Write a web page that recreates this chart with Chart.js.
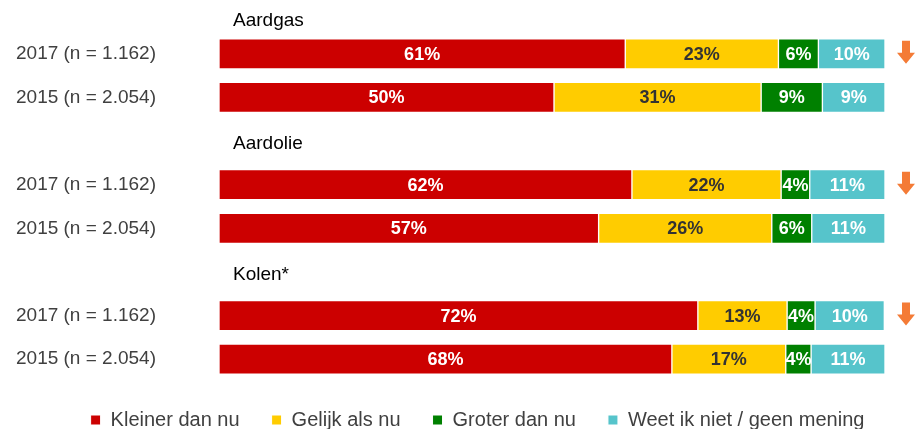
<!DOCTYPE html>
<html>
<head>
<meta charset="utf-8">
<script src="https://cdn.jsdelivr.net/npm/chart.js@4.4.1/dist/chart.umd.min.js"></script>
<style>
  html, body { margin: 0; padding: 0; background: #ffffff; }
  #wrap { width: 915px; height: 429px; position: relative; }
</style>
</head>
<body>
<div id="wrap"><canvas id="c" width="915" height="429"></canvas></div>
<script>
// ---- data ----
const categories = ['2017 (n = 1.162)', '2015 (n = 2.054)', '', '2017 (n = 1.162)', '2015 (n = 2.054)', '', '2017 (n = 1.162)', '2015 (n = 2.054)'];
const groupNames = ['Aardgas', 'Aardolie', 'Kolen*'];
const groupFirstRow = [0, 3, 6];
const arrowRows = [0, 3, 6];
const seriesNames = ['Kleiner dan nu', 'Gelijk als nu', 'Groter dan nu', 'Weet ik niet / geen mening'];
const kleiner = [61, 50.3, null, 62, 57, null, 71.9, 68];
const gelijk  = [23, 31.1, null, 22.4, 26, null, 13.4, 17.1];
const groter  = [6, 9.2, null, 4.3, 6, null, 4.2, 3.8];
const weetNiet = [10, 9.4, null, 11.3, 11, null, 10.4, 11.1];

const colors = ['#CC0000', '#FFCC00', '#008000', '#56C4CB'];
const labelColors = ['#FFFFFF', '#333333', '#FFFFFF', '#FFFFFF'];
const FONT = "'Liberation Sans', Arial, sans-serif";

const seriesData = [kleiner, gelijk, groter, weetNiet];

const dataLabelPlugin = {
  id: 'dataLabels',
  afterDatasetsDraw(chart) {
    const ctx = chart.ctx;
    ctx.save();
    ctx.font = "bold 18px " + FONT;
    ctx.textAlign = 'center';
    ctx.textBaseline = 'middle';
    chart.data.datasets.forEach((ds, di) => {
      const meta = chart.getDatasetMeta(di);
      meta.data.forEach((el, i) => {
        const v = ds.data[i];
        if (v === null || v === undefined) return;
        const cx = (el.x + el.base) / 2;
        ctx.fillStyle = labelColors[di];
        ctx.fillText(Math.round(v) + '%', cx, el.y + 1);
      });
    });
    ctx.restore();
  }
};

const legendLayoutPlugin = {
  id: 'legendLayout',
  beforeUpdate(chart) {
    const lg = chart.legend;
    if (lg && !lg._patched) {
      const orig = lg.fit;
      lg.fit = function () { orig.call(this); this.height = 48; };
      lg._patched = true;
    }
  },
  afterLayout(chart) {
    const lg = chart.legend;
    if (!lg) return;
    lg.top -= 3;
    lg.bottom = chart.height;
    lg.left += 27; lg.right += 27;
  }
};

const extrasPlugin = {
  id: 'extras',
  afterDraw(chart) {
    const ctx = chart.ctx;
    const y = chart.scales.y;
    const area = chart.chartArea;
    ctx.save();
    // group headers
    ctx.font = "19px " + FONT;
    ctx.fillStyle = '#000000';
    ctx.textAlign = 'left';
    ctx.textBaseline = 'middle';
    groupNames.forEach((name, gi) => {
      const py = y.getPixelForValue(groupFirstRow[gi]) - (gi === 0 ? 33 : 41);
      ctx.fillText(name, area.left + 14, py);
    });
    // orange down arrows
    ctx.fillStyle = '#F47B36';
    arrowRows.forEach(r => {
      const cy = y.getPixelForValue(r);
      const cx = area.right + 21;
      ctx.beginPath();
      ctx.moveTo(cx - 4, cy - 13);
      ctx.lineTo(cx + 4, cy - 13);
      ctx.lineTo(cx + 4, cy - 1);
      ctx.lineTo(cx + 9, cy - 1);
      ctx.lineTo(cx, cy + 10);
      ctx.lineTo(cx - 9, cy - 1);
      ctx.lineTo(cx - 4, cy - 1);
      ctx.closePath();
      ctx.fill();
    });
    ctx.restore();
  }
};

new Chart(document.getElementById('c'), {
  type: 'bar',
  data: {
    labels: categories,
    datasets: seriesData.map((d, i) => ({
      label: seriesNames[i],
      data: d,
      backgroundColor: colors[i],
      borderColor: '#FFFFFF',
      borderWidth: 1,
      borderSkipped: false,
      barThickness: 30
    }))
  },
  options: {
    indexAxis: 'y',
    responsive: false,
    animation: false,
    layout: { padding: { top: 32, right: 30, bottom: 0, left: 16 } },
    scales: {
      x: { stacked: true, min: 0, max: 100, display: false },
      y: {
        stacked: true,
        grid: { display: false, drawTicks: false },
        border: { display: false },
        ticks: { padding: 0, crossAlign: 'far', color: '#404040', font: { family: FONT, size: 19 } },
        afterFit(scale) { scale.width = 203; }
      }
    },
    plugins: {
      legend: {
        position: 'bottom',
        labels: {
          boxWidth: 10, boxHeight: 10, padding: 32,
          color: '#404040',
          font: { family: FONT, size: 20 }
        }
      },
      tooltip: { enabled: false }
    }
  },
  plugins: [legendLayoutPlugin, dataLabelPlugin, extrasPlugin]
});
</script>
</body>
</html>
